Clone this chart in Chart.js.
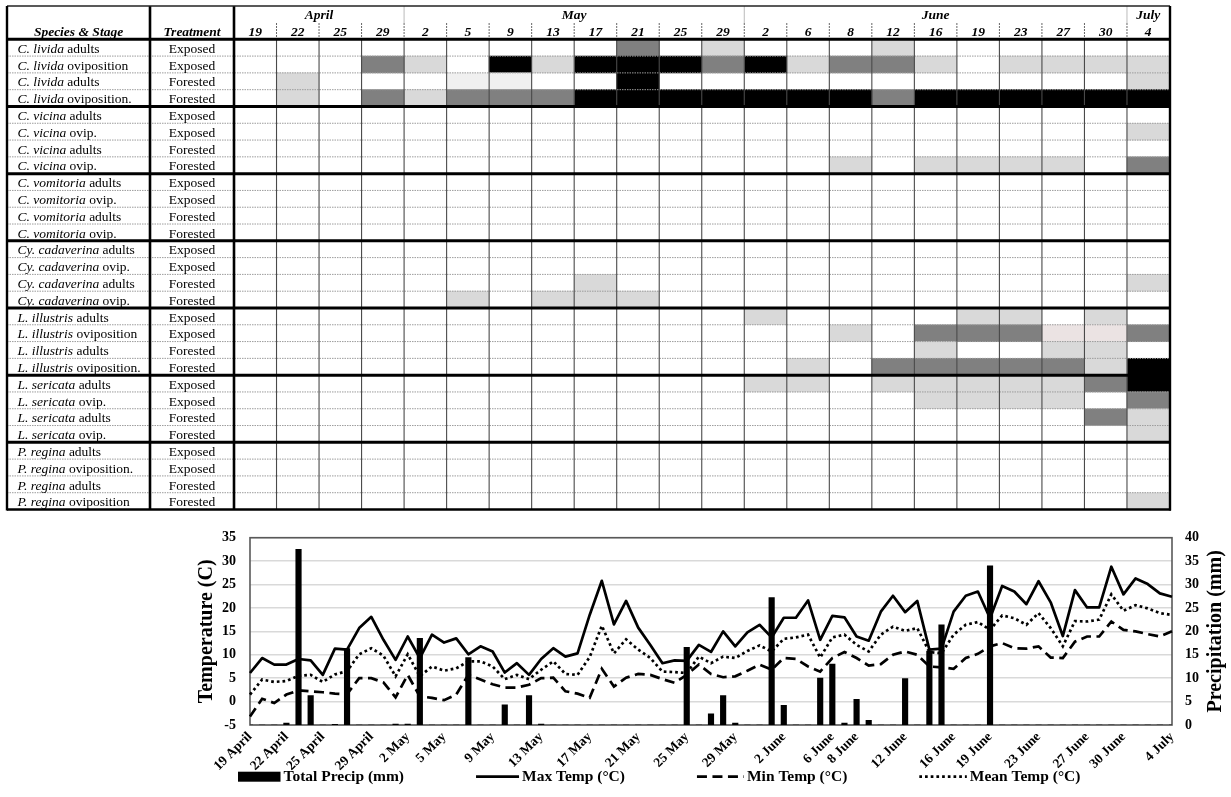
<!DOCTYPE html>
<html><head><meta charset="utf-8">
<script src="https://cdn.jsdelivr.net/npm/chart.js@4.4.1/dist/chart.umd.min.js"></script>
<style>
html,body{margin:0;padding:0;background:#fff;}
#wrap{position:relative;width:1231px;height:797px;overflow:hidden;background:#fff;}
canvas{position:absolute;left:0;}
#tbl{top:0;width:1231px;height:515px;}
#clim{top:515px;width:1231px;height:282px;}
</style></head><body>
<div id="wrap"><canvas id="tbl" width="1231" height="515"></canvas><canvas id="clim" width="1231" height="282"></canvas></div>
<script>
// ---------- TABLE DATA ----------
const rowSpecies = ['C. livida','C. livida','C. livida','C. livida','C. vicina','C. vicina','C. vicina','C. vicina','C. vomitoria','C. vomitoria','C. vomitoria','C. vomitoria','Cy. cadaverina','Cy. cadaverina','Cy. cadaverina','Cy. cadaverina','L. illustris','L. illustris','L. illustris','L. illustris','L. sericata','L. sericata','L. sericata','L. sericata','P. regina','P. regina','P. regina','P. regina'];
const rowStages = ['adults','oviposition','adults','oviposition.','adults','ovip.','adults','ovip.','adults','ovip.','adults','ovip.','adults','ovip.','adults','ovip.','adults','oviposition','adults','oviposition.','adults','ovip.','adults','ovip.','adults','oviposition.','adults','oviposition'];
const rowTreatments = ['Exposed','Exposed','Forested','Forested','Exposed','Exposed','Forested','Forested','Exposed','Exposed','Forested','Forested','Exposed','Exposed','Forested','Forested','Exposed','Exposed','Forested','Forested','Exposed','Exposed','Forested','Forested','Exposed','Exposed','Forested','Forested'];
const dateColumns = ['19','22','25','29','2','5','9','13','17','21','25','29','2','6','8','12','16','19','23','27','30','4'];
const monthNames = ['April','May','June','July'];
const monthColumnSpans = [[0,4],[4,12],[12,21],[21,22]];
// shade level per cell: 0 none, 1 very light, 2 light grey, 3 dark grey, 4 black, 5 pale pink-grey
const cellLevels = [
 [0,0,0,0,0,0,0,0,0,3,0,2,0,0,0,2,0,0,0,0,0,0],
 [0,0,0,3,2,0,4,2,4,4,4,3,4,2,3,3,2,0,2,2,2,2],
 [0,2,0,0,0,1,1,0,0,4,0,0,0,0,0,0,0,0,0,0,0,2],
 [0,2,0,3,2,3,3,3,4,4,4,4,4,4,4,3,4,4,4,4,4,4],
 [0,0,0,0,0,0,0,0,0,0,0,0,0,0,0,0,0,0,0,0,0,0],
 [0,0,0,0,0,0,0,0,0,0,0,0,0,0,0,0,0,0,0,0,0,2],
 [0,0,0,0,0,0,0,0,0,0,0,0,0,0,0,0,0,0,0,0,0,0],
 [0,0,0,0,0,0,0,0,0,0,0,0,0,0,2,0,2,2,2,2,0,3],
 [0,0,0,0,0,0,0,0,0,0,0,0,0,0,0,0,0,0,0,0,0,0],
 [0,0,0,0,0,0,0,0,0,0,0,0,0,0,0,0,0,0,0,0,0,0],
 [0,0,0,0,0,0,0,0,0,0,0,0,0,0,0,0,0,0,0,0,0,0],
 [0,0,0,0,0,0,0,0,0,0,0,0,0,0,0,0,0,0,0,0,0,0],
 [0,0,0,0,0,0,0,0,0,0,0,0,0,0,0,0,0,0,0,0,0,0],
 [0,0,0,0,0,0,0,0,0,0,0,0,0,0,0,0,0,0,0,0,0,0],
 [0,0,0,0,0,0,0,0,2,0,0,0,0,0,0,0,0,0,0,0,0,2],
 [0,0,0,0,0,2,0,2,2,2,0,0,0,0,0,0,0,0,0,0,0,0],
 [0,0,0,0,0,0,0,0,0,0,0,0,2,0,0,0,0,2,2,0,2,0],
 [0,0,0,0,0,0,0,0,0,0,0,0,0,0,2,0,3,3,3,5,5,3],
 [0,0,0,0,0,0,0,0,0,0,0,0,0,0,0,0,2,0,0,2,2,0],
 [0,0,0,0,0,0,0,0,0,0,0,0,0,2,0,3,3,3,3,3,2,4],
 [0,0,0,0,0,0,0,0,0,0,0,0,2,2,0,2,2,2,2,2,3,4],
 [0,0,0,0,0,0,0,0,0,0,0,0,0,0,0,0,2,2,2,2,0,3],
 [0,0,0,0,0,0,0,0,0,0,0,0,0,0,0,0,0,0,0,0,3,2],
 [0,0,0,0,0,0,0,0,0,0,0,0,0,0,0,0,0,0,0,0,0,2],
 [0,0,0,0,0,0,0,0,0,0,0,0,0,0,0,0,0,0,0,0,0,0],
 [0,0,0,0,0,0,0,0,0,0,0,0,0,0,0,0,0,0,0,0,0,0],
 [0,0,0,0,0,0,0,0,0,0,0,0,0,0,0,0,0,0,0,0,0,0],
 [0,0,0,0,0,0,0,0,0,0,0,0,0,0,0,0,0,0,0,0,0,2]
];
const shadeColors = ['#ffffff','#f0f0f0','#d9d9d9','#808080','#000000','#ebe3e3'];

// ---------- CLIMATE DATA ----------
const dayLabels = ['19 April','20 April','21 April','22 April','23 April','24 April','25 April','26 April','27 April','28 April','29 April','30 April',
 '1 May','2 May','3 May','4 May','5 May','6 May','7 May','8 May','9 May','10 May','11 May','12 May','13 May','14 May','15 May','16 May','17 May','18 May','19 May','20 May','21 May','22 May','23 May','24 May','25 May','26 May','27 May','28 May','29 May','30 May','31 May',
 '1 June','2 June','3 June','4 June','5 June','6 June','7 June','8 June','9 June','10 June','11 June','12 June','13 June','14 June','15 June','16 June','17 June','18 June','19 June','20 June','21 June','22 June','23 June','24 June','25 June','26 June','27 June','28 June','29 June','30 June',
 '1 July','2 July','3 July','4 July'];
const shownDayTicks = ['19 April','22 April','25 April','29 April','2 May','5 May','9 May','13 May','17 May','21 May','25 May','29 May','2 June','6 June','8 June','12 June','16 June','19 June','23 June','27 June','30 June','4 July'];
const maxTemp = [6.1,9.3,7.9,7.9,9.1,8.8,5.7,11.3,11.1,15.7,18.1,13.2,8.9,13.9,9.3,14.3,12.6,13.5,10.1,11.8,10.7,6.2,8.2,5.7,9.1,11.4,9.6,10.3,18.5,25.8,16.5,21.5,15.8,12.1,8.2,8.8,8.7,12.1,10.6,15.0,11.8,14.8,16.4,13.7,17.9,17.9,21.6,13.2,18.3,18.0,13.9,13.0,19.2,22.6,19.1,21.5,11.1,11.3,19.2,22.6,23.5,17.8,24.7,23.5,20.8,25.7,21.2,14.0,23.8,20.1,20.1,28.8,22.9,26.3,25.1,23.1,22.4];
const minTemp = [-3.2,0.6,-0.3,1.5,2.4,2.2,2.0,1.7,1.6,5.0,5.0,4.1,0.9,5.7,1.1,0.8,0.3,1.5,5.7,4.7,3.7,3.0,3.0,3.6,5.0,5.1,2.2,1.7,0.8,7.0,3.2,5.1,5.9,5.7,4.8,4.0,5.7,7.9,5.9,5.2,5.4,6.6,7.9,6.8,9.3,9.1,7.5,6.4,9.3,10.6,9.3,7.7,8.0,10.0,10.7,10.0,7.5,7.3,7.0,9.3,10.2,11.8,12.5,11.4,11.3,11.8,9.4,9.3,12.8,13.9,13.9,17.1,15.3,15.0,14.4,13.9,15.0];
const meanTemp = [1.5,4.7,4.2,4.4,5.5,5.7,4.2,5.8,6.5,10.1,11.4,9.8,5.4,10.1,5.4,7.5,6.6,7.1,8.6,8.6,7.5,4.8,5.7,4.8,6.8,8.6,5.9,5.7,9.5,16.2,10.3,13.3,11.1,9.3,6.4,6.3,6.1,9.6,8.2,9.6,9.3,10.8,12.0,10.7,13.4,13.7,14.3,9.4,13.7,14.3,12.1,10.7,14.3,16.0,15.1,15.7,10.6,10.3,14.3,16.4,17.0,15.3,18.4,17.8,16.4,18.9,15.7,11.8,17.2,17.1,17.5,22.9,19.4,20.6,19.9,18.9,18.5];
const totalPrecip = [0,0,0,0.4,37.5,6.3,0,0.15,16.3,0,0,0,0.2,0.2,18.5,0,0,0,14.4,0,0,4.3,0,6.3,0.2,0,0,0,0,0,0,0,0,0,0,0,16.6,0,2.4,6.3,0.4,0,0,27.2,4.2,0,0,10.0,13.0,0.4,5.5,1.0,0,0,9.9,0,15.8,21.4,0,0,0,34.0,0,0,0,0,0,0,0,0,0,0,0,0,0,0,0];

const SERIF = '"Liberation Serif", "Times New Roman", serif';
Chart.defaults.font.family = SERIF;
Chart.defaults.color = '#000';

// ---------- TABLE CHART ----------
function hline(ctx, x1, x2, y) { ctx.beginPath(); ctx.moveTo(x1, y); ctx.lineTo(x2, y); ctx.stroke(); }
function vline(ctx, x, y1, y2) { ctx.beginPath(); ctx.moveTo(x, y1); ctx.lineTo(x, y2); ctx.stroke(); }

const tableDecor = {
  id: 'tableDecor',
  afterDatasetsDraw(chart) {
    const ctx = chart.ctx, a = chart.chartArea, xs = chart.scales.x;
    const n = rowSpecies.length, rowH = (a.bottom - a.top) / n;
    const L = 7, C1 = 150, C2 = a.left, R = a.right + 0.5, T = 6, B = a.bottom;
    ctx.save();
    // dotted row separators
    ctx.strokeStyle = '#9c9c9c'; ctx.lineWidth = 1; ctx.setLineDash([1.5, 1]);
    for (let i = 1; i < n; i++) { if (i % 4 === 0) continue; hline(ctx, L, R, a.top + i * rowH); }
    ctx.setLineDash([]);
    // column lines in body
    ctx.strokeStyle = '#4a4a4a'; ctx.lineWidth = 1.1;
    for (let c = 1; c < dateColumns.length; c++) vline(ctx, xs.getPixelForValue(c), a.top, B);
    // header day separators (dashed)
    ctx.strokeStyle = '#666'; ctx.lineWidth = 1; ctx.setLineDash([2, 1]);
    for (let c = 1; c < dateColumns.length; c++) vline(ctx, xs.getPixelForValue(c), 23, a.top);
    ctx.setLineDash([]);
    // month separators (faint) in month row
    ctx.strokeStyle = '#bbb'; ctx.lineWidth = 1;
    monthColumnSpans.slice(1).forEach(s => vline(ctx, xs.getPixelForValue(s[0]), T, 23));
    // group separators
    ctx.strokeStyle = '#000'; ctx.lineWidth = 3;
    for (let g = 4; g < n; g += 4) hline(ctx, L, R, a.top + g * rowH);
    hline(ctx, L, R, a.top);
    // thick verticals
    ctx.lineWidth = 2.6;
    vline(ctx, C1, T, B); vline(ctx, C2, T, B);
    // outer border
    ctx.lineWidth = 1.6; ctx.strokeStyle = '#222'; hline(ctx, L, R, T);
    ctx.strokeStyle = '#000'; ctx.lineWidth = 2.4;
    vline(ctx, L, T, B + 1); vline(ctx, R, T, B + 1); hline(ctx, L, R + 1, B);
    // header text
    ctx.fillStyle = '#000'; ctx.textAlign = 'center'; ctx.textBaseline = 'alphabetic';
    ctx.font = 'italic bold 13.5px ' + SERIF;
    ctx.fillText('Species & Stage', (L + C1) / 2, 36);
    ctx.fillText('Treatment', (C1 + C2) / 2, 36);
    dateColumns.forEach((d, c) => ctx.fillText(d, xs.getPixelForValue(c + 0.5), 36));
    monthNames.forEach((m, k) => {
      const s = monthColumnSpans[k];
      ctx.fillText(m, (xs.getPixelForValue(s[0]) + xs.getPixelForValue(s[1])) / 2, 19);
    });
    // row labels
    for (let i = 0; i < n; i++) {
      const yb = a.top + i * rowH + rowH / 2 + 5.2;
      ctx.textAlign = 'left';
      ctx.font = 'italic 13.5px ' + SERIF;
      ctx.fillText(rowSpecies[i], 17.5, yb);
      const w = ctx.measureText(rowSpecies[i]).width;
      ctx.font = '13.5px ' + SERIF;
      ctx.fillText(' ' + rowStages[i], 17.5 + w, yb);
      ctx.textAlign = 'center';
      ctx.fillText(rowTreatments[i], (C1 + C2) / 2, yb);
    }
    ctx.restore();
  }
};

new Chart(document.getElementById('tbl'), {
  type: 'bar',
  data: {
    labels: rowSpecies.map((s, i) => s + ' ' + rowStages[i] + ' ' + rowTreatments[i]),
    datasets: dateColumns.map((d, c) => ({
      label: d,
      data: cellLevels.map(r => r[c] > 0 ? [c, c + 1] : null),
      backgroundColor: cellLevels.map(r => shadeColors[r[c]]),
      borderWidth: 0, barPercentage: 1, categoryPercentage: 1, grouped: false
    }))
  },
  options: {
    indexAxis: 'y', responsive: false, animation: false,
    layout: { padding: { left: 234, right: 61.5, top: 39.3, bottom: 5.5 } },
    scales: {
      x: { type: 'linear', min: 0, max: dateColumns.length, display: false },
      y: { type: 'category', display: false }
    },
    plugins: { legend: { display: false }, tooltip: { enabled: false } }
  },
  plugins: [tableDecor]
});

// ---------- CLIMATE CHART ----------
const climDecor = {
  id: 'climDecor',
  beforeDatasetsDraw(chart) {
    const ctx = chart.ctx, a = chart.chartArea;
    ctx.save(); ctx.strokeStyle = '#595959'; ctx.lineWidth = 1.6;
    ctx.strokeRect(a.left, a.top, a.right - a.left, a.bottom - a.top); ctx.restore();
  },
  afterDraw(chart) {
    const ctx = chart.ctx, a = chart.chartArea, midY = (a.top + a.bottom) / 2;
    ctx.save();
    ctx.fillStyle = '#000'; ctx.font = 'bold 20px ' + SERIF; ctx.textAlign = 'center'; ctx.textBaseline = 'middle';
    [[206.5, 'Temperature (C)'], [1216, 'Precipitation (mm)']].forEach(([x, t]) => {
      ctx.save(); ctx.translate(x, midY); ctx.rotate(-Math.PI / 2); ctx.fillText(t, 0, 0); ctx.restore();
    });
    // legend
    const swW = [42.5, 43, 47, 47.5];
    const yc = 261.7;
    let x = 238;
    ctx.font = 'bold 15.5px ' + SERIF; ctx.textAlign = 'left'; ctx.textBaseline = 'middle';
    chart.data.datasets.forEach((ds, i) => {
      const w = swW[i];
      if (ds.type === 'bar') { ctx.fillStyle = '#000'; ctx.fillRect(x, yc - 5, w, 10); }
      else {
        ctx.strokeStyle = '#000'; ctx.lineWidth = ds.borderWidth; ctx.setLineDash(ds.borderDash || []);
        ctx.beginPath(); ctx.moveTo(x, yc); ctx.lineTo(x + w, yc); ctx.stroke(); ctx.setLineDash([]);
      }
      ctx.fillStyle = '#000';
      ctx.fillText(ds.label, x + w + 3, yc + 0.5);
      x = x + w + 3 + ctx.measureText(ds.label).width + 72;
    });
    ctx.restore();
  }
};

new Chart(document.getElementById('clim'), {
  data: {
    labels: dayLabels,
    datasets: [
      { type: 'bar', label: 'Total Precip (mm)', data: totalPrecip, yAxisID: 'yP', backgroundColor: '#000', barThickness: 5.5, order: 2 },
      { type: 'line', label: 'Max Temp (°C)', data: maxTemp, yAxisID: 'yT', borderColor: '#000', borderWidth: 2.7, pointRadius: 0, tension: 0, borderJoinStyle: 'round', order: 1 },
      { type: 'line', label: 'Min Temp (°C)', data: minTemp, yAxisID: 'yT', borderColor: '#000', borderWidth: 2.7, borderDash: [10, 5.5], pointRadius: 0, tension: 0, order: 1 },
      { type: 'line', label: 'Mean Temp (°C)', data: meanTemp, yAxisID: 'yT', borderColor: '#000', borderWidth: 2.7, borderDash: [2.7, 3], pointRadius: 0, tension: 0, order: 1 }
    ]
  },
  options: {
    responsive: false, animation: false,
    layout: { padding: { left: 0, right: 0, top: 22.7, bottom: 0 } },
    scales: {
      x: {
        type: 'category', offset: false,
        grid: { display: false, drawTicks: false }, border: { display: false },
        ticks: {
          autoSkip: false, minRotation: 45, maxRotation: 45, padding: 4, color: '#000',
          font: { size: 13.5, weight: 'bold' },
          callback: function (v) { const l = this.getLabelForValue(v); return shownDayTicks.includes(l) ? l : ''; }
        },
        afterFit(s) { s.height = 72; }
      },
      yT: {
        position: 'left', min: -5, max: 35,
        ticks: { stepSize: 5, padding: 14, color: '#000', font: { size: 14, weight: 'bold' } },
        grid: { color: '#d9d9d9', lineWidth: 1.5, drawTicks: false }, border: { display: false },
        afterFit(s) { s.width = 250; }
      },
      yP: {
        position: 'right', min: 0, max: 40,
        ticks: { stepSize: 5, padding: 13, color: '#000', font: { size: 14, weight: 'bold' } },
        grid: { display: false, drawTicks: false }, border: { display: false },
        afterFit(s) { s.width = 59; }
      }
    },
    plugins: { legend: { display: false }, tooltip: { enabled: false } }
  },
  plugins: [climDecor]
});
</script></body></html>
